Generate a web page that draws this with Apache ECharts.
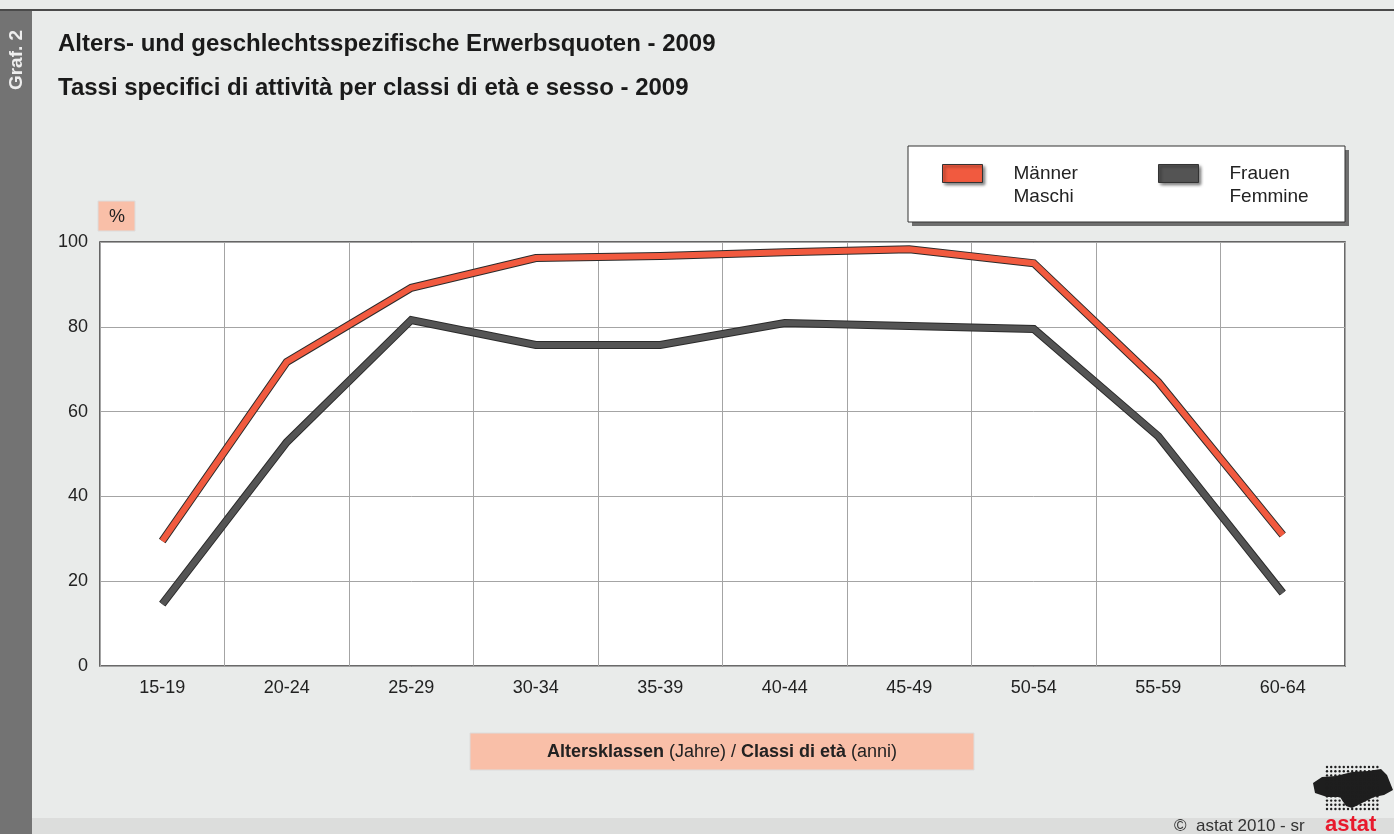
<!DOCTYPE html>
<html>
<head>
<meta charset="utf-8">
<script src="https://cdn.jsdelivr.net/npm/echarts@6/dist/echarts.min.js"></script>
<style>
  html, body { margin: 0; padding: 0; background: #e9ebea; }
  #chart { width: 1394px; height: 834px; }
</style>
</head>
<body>
<div id="chart"></div>
<script>
// Altersklassen / classi di età
var categories = ['15-19', '20-24', '25-29', '30-34', '35-39', '40-44', '45-49', '50-54', '55-59', '60-64']
// Erwerbsquoten in %
var maenner = [29.5, 71.7, 89.2, 96.2, 96.7, 97.6, 98.3, 95.0, 67.0, 30.9]
var frauen = [14.6, 52.8, 81.6, 75.7, 75.7, 80.9, 80.2, 79.5, 54.2, 17.2]
var yTicks = [0, 20, 40, 60, 80, 100]

var red = '#f15a3f'
var grey = '#545454'
var font = 'Liberation Sans, Arial, sans-serif'

// Linie mit dunklem Rand: breite dunkle Linie unten, Farbe oben
function bandSeries(name, data, color, z) {
  return [
    {
      name: name + '_rand',
      type: 'line',
      data: data,
      symbol: 'none',
      z: z,
      silent: true,
      lineStyle: { color: '#2a2a2a', width: 8, cap: 'butt', join: 'miter' }
    },
    {
      name: name,
      type: 'line',
      data: data,
      symbol: 'none',
      z: z + 1,
      itemStyle: { color: color },
      lineStyle: { color: color, width: 6, cap: 'butt', join: 'miter' }
    }
  ]
}

var legendItem = function(name, left) {
  return {
    left: left,
    top: 134,
    orient: 'horizontal',
    data: [name],
    itemWidth: 40,
    itemHeight: 18,
    icon: 'rect',
    selectedMode: false,
    // leere erste Zeile, damit die erste Textzeile auf Höhe des Symbols liegt
    formatter: function(n) { return '\n' + n },
    itemStyle: {
      borderColor: '#333',
      borderWidth: 1,
      shadowBlur: 3,
      shadowColor: 'rgba(0,0,0,0.5)',
      shadowOffsetX: 2,
      shadowOffsetY: 2
    },
    textStyle: {
      fontFamily: font,
      fontSize: 19,
      lineHeight: 23,
      color: '#222',
      padding: [0, 0, 0, 26]
    }
  }
}

// Logo-Punkte
var logoDots = []
for (var r = 0; r < 11; r++) {
  for (var c = 0; c < 13; c++) {
    logoDots.push({
      type: 'circle',
      shape: { cx: 1327 + c * 4.2, cy: 767 + r * 4.2, r: 1.2 },
      style: { fill: '#1e1e1e' },
      silent: true
    })
  }
}

var chart = echarts.init(document.getElementById('chart'))
chart.setOption({
  backgroundColor: '#e9ebea',
  animation: false,
  legend: [
    legendItem('Männer\nMaschi', 937),
    legendItem('Frauen\nFemmine', 1153)
  ],
  grid: {
    left: 100,
    right: 49,
    top: 242,
    bottom: 168,
    show: true,
    backgroundColor: '#ffffff',
    borderColor: '#3a3a3a',
    borderWidth: 1.5
  },
  xAxis: {
    type: 'category',
    data: categories,
    boundaryGap: true,
    axisLine: { show: false },
    axisTick: { show: false },
    axisLabel: {
      interval: 0,
      margin: 13,
      fontFamily: font,
      fontSize: 18,
      color: '#222'
    },
    splitLine: {
      show: true,
      interval: 0,
      lineStyle: { color: '#a4a4a4', width: 1 }
    }
  },
  yAxis: {
    type: 'value',
    min: 0,
    max: 100,
    interval: 20,
    axisLine: { show: false },
    axisTick: { show: false },
    axisLabel: {
      margin: 12,
      fontFamily: font,
      fontSize: 18,
      color: '#222',
      formatter: function(v) { return yTicks.indexOf(v) >= 0 ? String(v) : '' }
    },
    splitLine: { lineStyle: { color: '#a4a4a4', width: 1 } }
  },
  series: []
    .concat(bandSeries('Frauen\nFemmine', frauen, grey, 2))
    .concat(bandSeries('Männer\nMaschi', maenner, red, 4)),
  graphic: [
    // obere Linie
    { type: 'rect', shape: { x: 0, y: 9, width: 1394, height: 2 }, style: { fill: '#4a4a4a' }, silent: true },
    // linker Streifen
    { type: 'rect', shape: { x: 0, y: 11, width: 32, height: 823 }, style: { fill: '#737373' }, silent: true },
    {
      type: 'text', x: 17, y: 60, rotation: Math.PI / 2,
      style: { text: 'Graf. 2', font: 'bold 19px ' + font, fill: '#eeeeee', align: 'center', verticalAlign: 'middle' }
    },
    // unterer Streifen
    { type: 'rect', shape: { x: 32, y: 818, width: 1362, height: 16 }, style: { fill: '#dcdddc' }, silent: true },
    // Titel
    { type: 'text', left: 58, top: 32, style: { text: 'Alters- und geschlechtsspezifische Erwerbsquoten - 2009', font: 'bold 24px ' + font, fill: '#1a1a1a' } },
    { type: 'text', left: 58, top: 76, style: { text: 'Tassi specifici di attività per classi di età e sesso - 2009', font: 'bold 24px ' + font, fill: '#1a1a1a' } },
    // Legendenrahmen
    { type: 'rect', z: -1, shape: { x: 912, y: 150, width: 437, height: 76 }, style: { fill: '#6e6e6e' }, silent: true },
    { type: 'rect', z: -1, shape: { x: 908, y: 146, width: 437, height: 76 }, style: { fill: '#ffffff', stroke: '#333', lineWidth: 1 }, silent: true },
    // Prozent-Kasten
    { type: 'rect', shape: { x: 98, y: 201, width: 37, height: 30 }, style: { fill: '#f9bfa8', stroke: '#dcdcdc', lineWidth: 1 }, silent: true },
    { type: 'text', x: 117, y: 217, style: { text: '%', font: '18px ' + font, fill: '#222', align: 'center', verticalAlign: 'middle' } },
    // Achsentitel-Kasten
    { type: 'rect', shape: { x: 470, y: 733, width: 504, height: 37 }, style: { fill: '#f9bfa8', stroke: '#dcdcdc', lineWidth: 1 }, silent: true },
    {
      type: 'text', x: 722, y: 752,
      style: {
        text: '{b|Altersklassen} (Jahre) / {b|Classi di età} (anni)',
        align: 'center', verticalAlign: 'middle',
        font: '18px ' + font, fill: '#222',
        rich: { b: { fontWeight: 'bold', fontSize: 18, fontFamily: font, fill: '#222' } }
      }
    },
    // Quelle
    { type: 'text', x: 1174, y: 826, style: { text: '©  astat 2010 - sr', font: '17px ' + font, fill: '#333', verticalAlign: 'middle' } },
    { type: 'text', x: 1325, y: 825, style: { text: 'astat', font: 'bold 22px ' + font, fill: '#e8192c', verticalAlign: 'middle' } },
    // Logo (vereinfacht)
    {
      type: 'polygon',
      shape: { points: [[1313, 783], [1322, 777], [1336, 776], [1352, 772], [1368, 771], [1381, 769], [1387, 775], [1393, 790], [1384, 795], [1374, 797], [1362, 803], [1352, 808], [1346, 806], [1340, 797], [1327, 797], [1315, 793]] },
      style: { fill: '#1e1e1e' }, silent: true
    }
  ].concat(logoDots)
})
</script>
</body>
</html>
